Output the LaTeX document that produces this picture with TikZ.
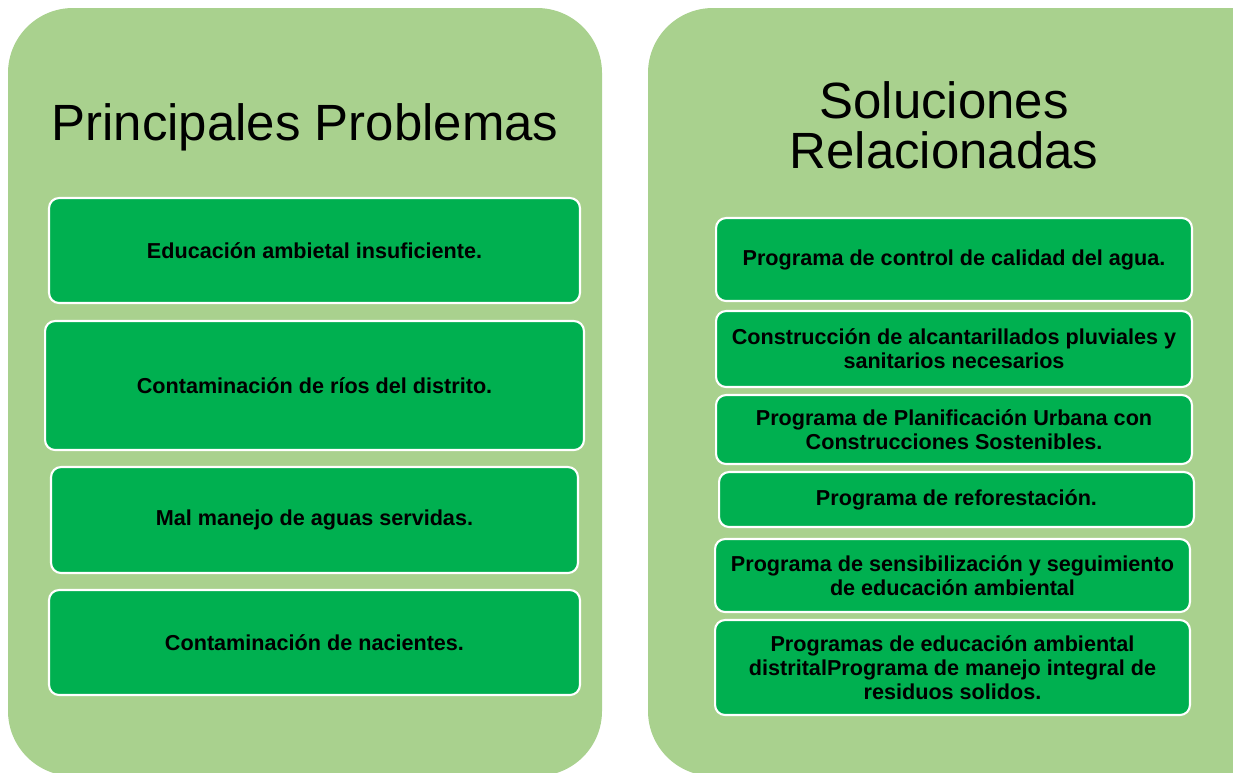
\documentclass[tikz,border=0pt]{standalone}
\usepackage{fontspec}
\setmainfont{Liberation Sans}
\usepackage{xcolor}
\definecolor{panelgreen}{HTML}{A9D18E}
\definecolor{itemgreen}{HTML}{00B050}

\tikzset{
  panel/.style={fill=panelgreen, rounded corners=1.3cm},
  heading/.style={align=center, font=\fontsize{29}{28.5}\selectfont},
  item/.style={draw=white, line width=1.2pt, fill=itemgreen, rounded corners=0.2cm,
    align=center, inner sep=0pt,
    font=\fontsize{12.3}{13.6}\selectfont\bfseries},
}

\begin{document}
\begin{tikzpicture}[x=0.02cm, y=-0.02cm]
\useasboundingbox (0,0) rectangle (1233,772);
\clip (0,0) rectangle (1233,772);

% panels
\fill[panel] (8,8) rectangle (602,776);
\fill[panel] (648,8) rectangle (1300,776);

% left column
\node[heading] (probtitle) at (305,127) {Principales Problemas};
\node[item, minimum width=10.62cm, minimum height=2.1cm] (prob1) at (314.5,250.5) {Educación ambietal insuficiente.};
\node[item, minimum width=10.78cm, minimum height=2.58cm] (prob2) at (314.5,385.5) {Contaminación de ríos del distrito.};
\node[item, minimum width=10.54cm, minimum height=2.12cm] (prob3) at (314.5,520) {Mal manejo de aguas servidas.};
\node[item, minimum width=10.62cm, minimum height=2.1cm] (prob4) at (314.5,642.5) {Contaminación de nacientes.};

% right column
\node[heading] (soltitle) at (944,125) {Soluciones\\Relacionadas};
\node[item, minimum width=9.52cm, minimum height=1.66cm] (sol1) at (954,259.5) {Programa de control de calidad del agua.};
\node[item, minimum width=9.52cm, minimum height=1.52cm] (sol2) at (954,349) {Construcción de alcantarillados pluviales y\\sanitarios necesarios};
\node[item, minimum width=9.52cm, minimum height=1.38cm] (sol3) at (954,429.5) {Programa de Planificación Urbana con\\Construcciones Sostenibles.};
\node[item, minimum width=9.5cm, minimum height=1.1cm] (sol4) at (956.5,499.5) {Programa de reforestación.};
\node[item, minimum width=9.5cm, minimum height=1.46cm] (sol5) at (952.5,575.5) {Programa de sensibilización y seguimiento\\de educación ambiental};
\node[item, minimum width=9.5cm, minimum height=1.9cm] (sol6) at (952.5,667.5) {Programas de educación ambiental\\distritalPrograma de manejo integral de\\residuos solidos.};
\end{tikzpicture}
\end{document}
